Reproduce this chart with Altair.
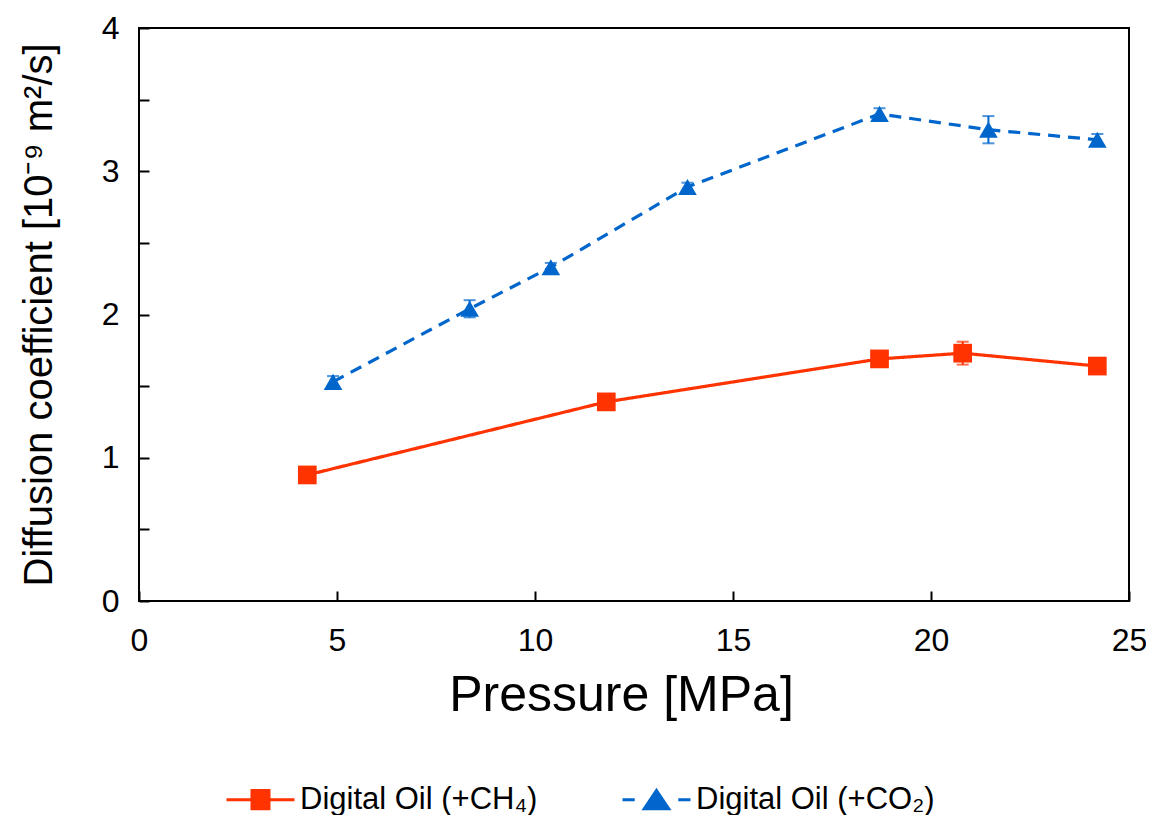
import altair as alt
import pandas as pd

# ---------------- data ----------------
ch4_label = "Digital Oil (+CH₄)"
co2_label = "Digital Oil (+CO₂)"

ch4_pressure = [4.25, 11.8, 18.7, 20.8, 24.2]
ch4_diff = [0.88, 1.39, 1.69, 1.73, 1.64]
ch4_err = [0.03, 0.02, 0.03, 0.08, 0.04]

co2_pressure = [4.9, 8.35, 10.4, 13.85, 18.7, 21.45, 24.2]
co2_diff = [1.53, 2.04, 2.33, 2.89, 3.40, 3.29, 3.22]
co2_err = [0.04, 0.06, 0.03, 0.03, 0.04, 0.095, 0.04]

x_ticks = [0, 5, 10, 15, 20, 25]
y_ticks = [0, 1, 2, 3, 4]
y_minor_ticks = [0, 0.5, 1, 1.5, 2, 2.5, 3, 3.5, 4]

series_names = [ch4_label, co2_label]
series_colors = ["#FF3300", "#0066CC"]

rows = []
for name, ps, ds, es in [(ch4_label, ch4_pressure, ch4_diff, ch4_err),
                         (co2_label, co2_pressure, co2_diff, co2_err)]:
    for p, d, e in zip(ps, ds, es):
        rows.append({"series": name, "pressure": p, "diff": d,
                     "lo": d - e, "hi": d + e})
df = pd.DataFrame(rows)

# ---------------- chart ----------------
W, H = 990, 573
FONT = "Liberation Sans"

x_scale = alt.Scale(domain=[0, 25], nice=False, zero=False)
y_scale = alt.Scale(domain=[0, 4], nice=False, zero=False)
color_scale = alt.Scale(domain=series_names, range=series_colors)

x_main = alt.X("pressure:Q", scale=x_scale,
               axis=alt.Axis(values=x_ticks, ticks=False, domain=False, grid=False,
                             labelFontSize=32, labelPadding=24, format="d",
                             labelFlush=False,
                             title="Pressure [MPa]", titleFontSize=50,
                             titlePadding=14, titleX=482, titleAlign="center"))
y_main = alt.Y("diff:Q", scale=y_scale,
               axis=alt.Axis(values=y_ticks, ticks=False, domain=False, grid=False,
                             labelFontSize=32, labelPadding=20, format="d",
                             labelFlush=False,
                             title="Diffusion coefficient [10⁻⁹ m²/s]",
                             titleFontSize=40, titlePadding=42))
col = alt.Color("series:N", scale=color_scale, legend=None)

base = alt.Chart(df)

lines = base.mark_line(strokeWidth=3.2).encode(
    x=x_main, y=y_main, color=col,
    strokeDash=alt.StrokeDash("series:N",
                              scale=alt.Scale(domain=series_names,
                                              range=[[1, 0], [12, 8]]),
                              legend=None),
    detail="series:N",
)

err_rules = base.mark_rule(strokeWidth=2).encode(
    x="pressure:Q", y="lo:Q", y2="hi:Q", color=col)
cap_lo = base.mark_tick(orient="horizontal", size=12, thickness=2).encode(
    x="pressure:Q", y="lo:Q", color=col)
cap_hi = base.mark_tick(orient="horizontal", size=12, thickness=2).encode(
    x="pressure:Q", y="hi:Q", color=col)

points = base.mark_point(filled=True, opacity=1, size=350).encode(
    x="pressure:Q", y="diff:Q", color=col,
    shape=alt.Shape("series:N",
                    scale=alt.Scale(domain=series_names,
                                    range=["square", "triangle-up"]),
                    legend=None),
)

main = alt.layer(lines, points, err_rules, cap_lo, cap_hi)

# legend symbols: line + marker drawn as one custom path per series
legend_paths = [
    "M-1,0H1M-0.25,-0.27H0.25V0.27H-0.25Z",
    "M-1,0H-0.64M0,-0.27L0.36,0.27L-0.36,0.27ZM0.64,0H1",
]
leg = alt.Legend(title=None, orient="none", legendX=86, legendY=736,
                 direction="horizontal", columnPadding=78,
                 labelFont=FONT, labelFontSize=31, labelColor="black",
                 labelOffset=4, labelLimit=500, symbolSize=4624,
                 symbolStrokeWidth=3, padding=0)

guide = alt.Chart(df).transform_filter("false").mark_point(
    filled=True, strokeWidth=3, size=4624, opacity=1).encode(
    x=alt.X("pressure:Q", scale=x_scale,
            axis=alt.Axis(orient="top", offset=-H, values=x_ticks,
                          labels=False, ticks=True, tickSize=10, tickWidth=2,
                          tickColor="black", domain=False, grid=False,
                          title=None)),
    y=alt.Y("diff:Q", scale=y_scale,
            axis=alt.Axis(orient="right", offset=-W, values=y_minor_ticks,
                          labels=False, ticks=True, tickSize=10, tickWidth=2,
                          tickColor="black", domain=False, grid=False,
                          title=None)),
    shape=alt.Shape("series:N",
                    scale=alt.Scale(domain=series_names, range=legend_paths),
                    legend=leg),
    fill=alt.Fill("series:N", scale=color_scale, legend=leg),
    stroke=alt.Stroke("series:N", scale=color_scale, legend=leg),
)

chart = alt.layer(main, guide).resolve_scale(
    x="independent", y="independent", color="independent",
    fill="independent", stroke="independent", shape="independent",
).properties(
    width=W, height=H,
    autosize=alt.AutoSizeParams(type="none"),
    padding={"left": 131, "top": 20, "right": 17, "bottom": 214},
).configure_view(
    stroke="black", strokeWidth=2,
).configure_axis(
    labelFont=FONT, titleFont=FONT, labelColor="black", titleColor="black",
    titleFontWeight="normal",
)

chart.save("out.html", embed_options={"renderer": "svg", "actions": False})
